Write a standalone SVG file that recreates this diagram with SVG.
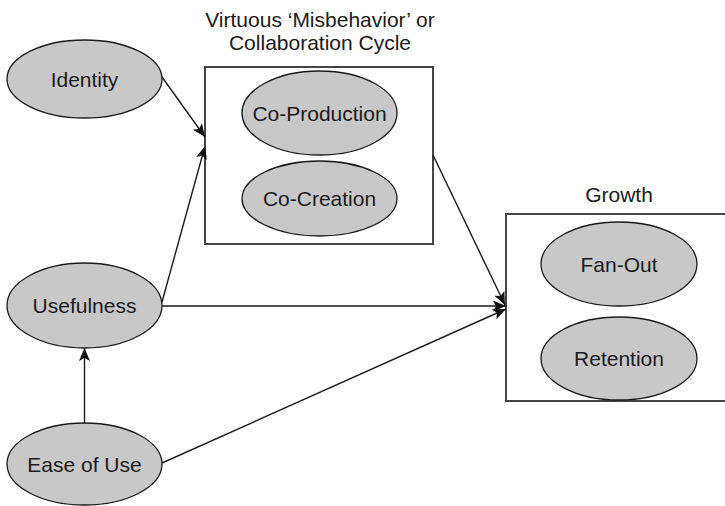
<svg xmlns="http://www.w3.org/2000/svg" width="725" height="506" viewBox="0 0 725 506">
  <style>
    .node ellipse { fill: #c8c8c8; stroke: #1a1a1a; stroke-width: 1.3; }
    .frame { fill: #ffffff; stroke: #444444; stroke-width: 2; }
    text { font-family: "Liberation Sans", Arial, sans-serif; font-size: 21px; fill: #1a1a1a; text-anchor: middle; }
    .edge { stroke: #1a1a1a; stroke-width: 1.4; fill: none; marker-end: url(#arrow); }
  </style>
  <defs>
    <marker id="arrow" viewBox="0 0 13 11" refX="13" refY="5.5" markerWidth="13" markerHeight="11" markerUnits="userSpaceOnUse" orient="auto">
      <path d="M0,0 L13,5.5 L0,11 L3,5.5 Z" fill="#111111"/>
    </marker>
  </defs>

  <rect width="725" height="506" fill="#ffffff"/>

  <!-- collaboration cycle group -->
  <g id="collaboration">
    <text x="320" y="27">Virtuous ‘Misbehavior’ or</text>
    <text x="320" y="50">Collaboration Cycle</text>
    <rect class="frame" x="205" y="67" width="228" height="177"/>
  </g>

  <!-- growth group -->
  <g id="growth">
    <text x="619" y="202">Growth</text>
    <rect class="frame" x="506" y="214" width="240" height="187"/>
  </g>

  <!-- connectors -->
  <g id="connectors">
    <line class="edge" x1="162" y1="77" x2="205" y2="137"/>
    <line class="edge" x1="162" y1="302" x2="205" y2="146"/>
    <line class="edge" x1="162" y1="306" x2="506" y2="306"/>
    <line class="edge" x1="162" y1="463" x2="506" y2="309"/>
    <line class="edge" x1="433" y1="155" x2="505" y2="305"/>
    <line class="edge" x1="84.5" y1="423" x2="84.5" y2="348"/>
  </g>

  <g id="identity" class="node">
    <ellipse cx="84.5" cy="79" rx="77.5" ry="39"/>
    <text x="84.5" y="86.5">Identity</text>
  </g>

  <g id="usefulness" class="node">
    <ellipse cx="84.5" cy="305.5" rx="77.5" ry="42.5"/>
    <text x="84.5" y="312.5">Usefulness</text>
  </g>

  <g id="ease-of-use" class="node">
    <ellipse cx="84.5" cy="464" rx="77.5" ry="41"/>
    <text x="84.5" y="471.5">Ease of Use</text>
  </g>

  <g id="co-production" class="node">
    <ellipse cx="319.5" cy="113" rx="77.5" ry="42"/>
    <text x="319.5" y="120.5">Co-Production</text>
  </g>

  <g id="co-creation" class="node">
    <ellipse cx="319.5" cy="198.5" rx="77.5" ry="37.5"/>
    <text x="319.5" y="206">Co-Creation</text>
  </g>

  <g id="fan-out" class="node">
    <ellipse cx="619" cy="264" rx="78" ry="42"/>
    <text x="619" y="271.5">Fan-Out</text>
  </g>

  <g id="retention" class="node">
    <ellipse cx="619" cy="358.5" rx="78" ry="41.5"/>
    <text x="619" y="366">Retention</text>
  </g>
</svg>
